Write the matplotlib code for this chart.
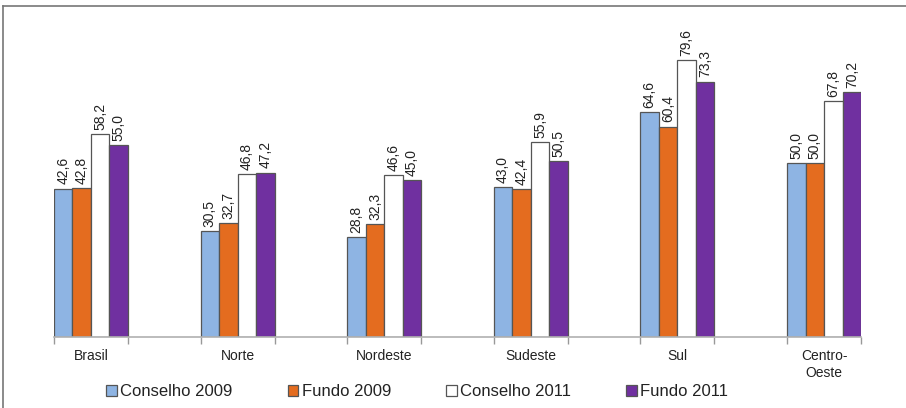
import numpy as np
import matplotlib
matplotlib.use("Agg")
import matplotlib.pyplot as plt
from matplotlib.lines import Line2D

plt.rcParams["font.family"] = ["Liberation Sans", "DejaVu Sans"]

regioes = ["Brasil", "Norte", "Nordeste", "Sudeste", "Sul", "Centro-\nOeste"]
conselho_2009 = [42.6, 30.5, 28.8, 43.0, 64.6, 50.0]
fundo_2009 = [42.8, 32.7, 32.3, 42.4, 60.4, 50.0]
conselho_2011 = [58.2, 46.8, 46.6, 55.9, 79.6, 67.8]
fundo_2011 = [55.0, 47.2, 45.0, 50.5, 73.3, 70.2]

series = [
    ("Conselho 2009", conselho_2009, "#8eb4e3"),
    ("Fundo 2009", fundo_2009, "#e46c1f"),
    ("Conselho 2011", conselho_2011, "#ffffff"),
    ("Fundo 2011", fundo_2011, "#7030a0"),
]

W, H = 906, 408
fig = plt.figure(figsize=(W / 100, H / 100), dpi=100)
ax = fig.add_axes([54 / W, (H - 337) / H, (861 - 54) / W, (337 - 20) / H])

x = np.arange(len(regioes))
w = 0.126
offsets = [-1.5, -0.5, 0.5, 1.5]

for (nome, vals, cor), off in zip(series, offsets):
    bars = ax.bar(x + off * w, vals, width=w, color=cor, edgecolor="#555555",
                  linewidth=0.9, label=nome)
    for b, v in zip(bars, vals):
        ax.annotate(f"{v:.1f}".replace(".", ","),
                    (b.get_x() + b.get_width() / 2, v),
                    xytext=(0, 3), textcoords="offset points",
                    rotation=90, ha="center", va="bottom",
                    fontsize=10, color="#222222", annotation_clip=False)

ax.set_xlim(-2 * w, len(regioes) - 1 + 2 * w)
ax.set_ylim(0, 91)
for s in ["top", "left", "right"]:
    ax.spines[s].set_visible(False)
ax.spines["bottom"].set_color("#b0b0b0")
ax.spines["bottom"].set_linewidth(1.2)
ax.set_yticks([])

ax.set_xticks(x)
ax.set_xticklabels(regioes, fontsize=10, color="#222222")
ax.tick_params(axis="x", which="major", length=0, pad=9)
edges = np.concatenate([x - 2 * w, x + 2 * w])
ax.set_xticks(edges, minor=True)
ax.tick_params(axis="x", which="minor", length=5, color="#999999", width=1)

fig.legend(loc="center left", bbox_to_anchor=(106 / W, 1 - 392 / H),
           ncol=4, frameon=False, fontsize=12, handlelength=0.65,
           handleheight=0.65, handletextpad=0.2, columnspacing=3.3,
           borderpad=0, borderaxespad=0, labelcolor="#222222")

# moldura
fig.add_artist(Line2D([3 / W, 1], [1 - 6 / H, 1 - 6 / H], color="#777777", lw=1.2))
fig.add_artist(Line2D([3 / W, 3 / W], [0, 1 - 6 / H], color="#777777", lw=1.2))

fig.savefig("out.png", dpi=100)
